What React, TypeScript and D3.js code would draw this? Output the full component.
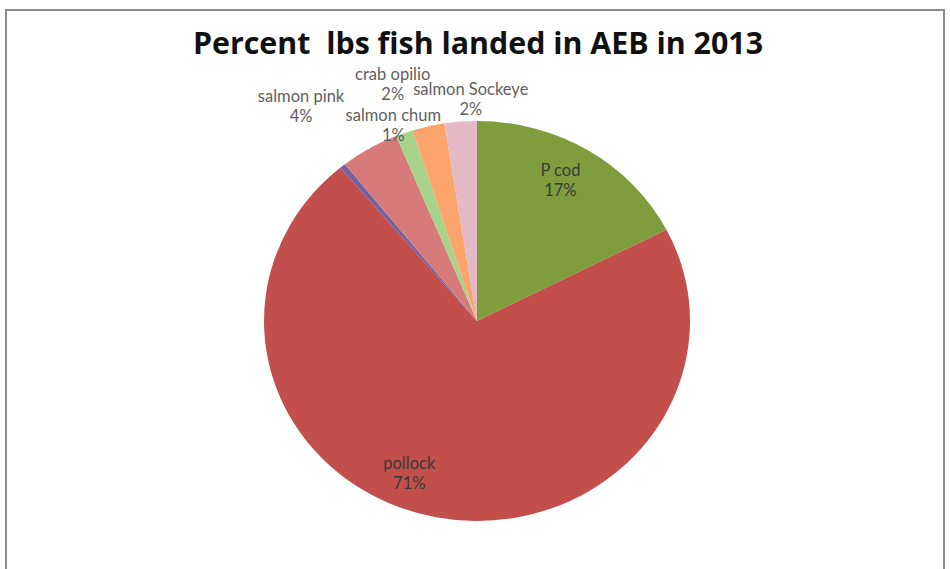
import React from "react";
import * as d3 from "d3";

const categories = ["P cod", "pollock", "other", "salmon pink", "salmon chum", "crab opilio", "salmon Sockeye"];
const values = [17.45, 71.45, 0.45, 4.45, 1.3, 2.45, 2.45];
const colors = ["#7f9d3d", "#c24f4b", "#7461a0", "#d67b7a", "#a7d48a", "#fba46b", "#e4b9c6"];
const showLabel = [true, true, false, true, true, true, true];
const title = "Percent\u00a0 lbs fish landed in AEB in 2013";

// label layout (angle adjustment in degrees, radius factor)
const placement: Record<string, { da: number; f: number; inside: boolean }> = {
  "P cod": { da: -2.1, f: 0.8, inside: true },
  pollock: { da: 11.1, f: 0.83, inside: true },
  "salmon pink": { da: -7.4, f: 1.35, inside: false },
  "salmon chum": { da: -2.0, f: 1.05, inside: false },
  "crab opilio": { da: -5.3, f: 1.245, inside: false },
  "salmon Sockeye": { da: 2.9, f: 1.105, inside: false },
};

export default function App() {
  const W = 950, H = 569;
  const cx = 477, cy = 321, r = 200, sx = 1.065;
  const fs = 16.5;
  const data = categories.map((c, i) => ({ c, v: values[i], color: colors[i], show: showLabel[i] }));
  const total = d3.sum(values);
  const pie = d3.pie<any>().value((d) => d.v).sort(null);
  const arcs = pie(data);
  const arc = d3.arc<any>().innerRadius(0).outerRadius(r);

  return (
    <svg width={W} height={H} style={{ position: "absolute", left: 0, top: 0, background: "#fff" }}>
      <rect x={0} y={0} width={W} height={H} fill="#fff" />
      <path d={`M6,${H} L6,10 L944,10 L944,${H}`} fill="none" stroke="#8c8c8c" strokeWidth={2} />
      <text
        x={478}
        y={54}
        textAnchor="middle"
        fontFamily="'Liberation Sans Narrow', 'Open Sans', sans-serif"
        fontWeight="bold"
        fontSize={30}
        textLength={570}
        lengthAdjust="spacingAndGlyphs"
        fill="#111"
      >
        {title}
      </text>
      <g transform={`translate(${cx},${cy}) scale(${sx},1)`}>
        {arcs.map((a, i) => (
          <path key={i} d={arc(a) as string} fill={a.data.color} />
        ))}
      </g>
      {arcs.map((a, i) => {
        if (!a.data.show) return null;
        const p = placement[a.data.c];
        const mid = (a.startAngle + a.endAngle) / 2 + (p.da * Math.PI) / 180;
        const x = cx + sx * r * p.f * Math.sin(mid);
        const y = cy - r * p.f * Math.cos(mid);
        const pct = Math.round((a.data.v / total) * 100) + "%";
        const fill = p.inside ? "#3a3a3a" : "#5f5f5f";
        return (
          <g key={i} fontFamily="Lato, sans-serif" fontSize={fs} fill={fill} textAnchor="middle">
            <text x={x} y={y - 10 + 5}>{a.data.c}</text>
            <text x={x} y={y + 10 + 5}>{pct}</text>
          </g>
        );
      })}
    </svg>
  );
}
